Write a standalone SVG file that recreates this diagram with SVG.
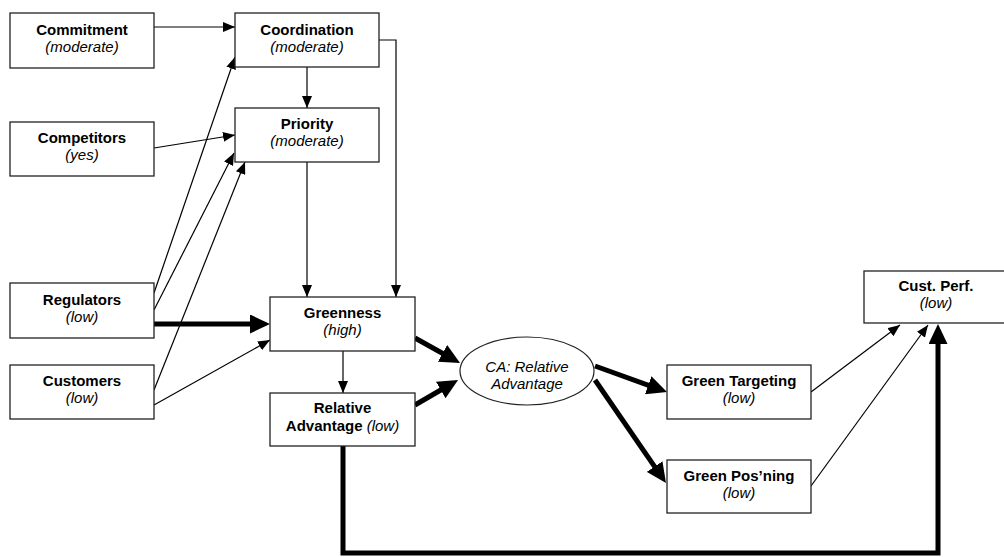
<svg xmlns="http://www.w3.org/2000/svg" width="1004" height="557" viewBox="0 0 1004 557">
  <defs>
    <style>
      .box { fill: #ffffff; stroke: #222222; stroke-width: 1.3; }
      .oval { fill: #ffffff; stroke: #222222; stroke-width: 1.2; }
      .t { font-family: "Liberation Sans", Arial, sans-serif; font-size: 15px; fill: #000000; text-anchor: middle; }
      .b { font-weight: bold; }
      .i { font-style: italic; }
      .thin { fill: none; stroke: #000000; stroke-width: 1.2; marker-end: url(#headThin); }
      .thick { fill: none; stroke: #000000; stroke-width: 5; marker-end: url(#headThick); }
    </style>
    <marker id="headThin" markerUnits="userSpaceOnUse" viewBox="0 0 12 10" refX="12" refY="5" markerWidth="12" markerHeight="10" orient="auto">
      <path d="M0,0 L12,5 L0,10 Z" fill="#000000"/>
    </marker>
    <marker id="headThick" markerUnits="userSpaceOnUse" viewBox="0 0 20 19" refX="10" refY="9.5" markerWidth="20" markerHeight="19" orient="auto">
      <path d="M0,0 L20,9.5 L0,19 Z" fill="#000000"/>
    </marker>
  </defs>
  <rect width="1004" height="557" fill="#ffffff"/>

  <g id="connectors">
    <!-- thin influences -->
    <path class="thin" d="M154,27 H235"/>
    <path class="thin" d="M307,67 V108"/>
    <path class="thin" d="M154,148 L235,135"/>
    <path class="thin" d="M154,293 L235,57"/>
    <path class="thin" d="M154,310 L234,153"/>
    <path class="thin" d="M154,390 L245,162"/>
    <path class="thin" d="M307,162 V297"/>
    <path class="thin" d="M379,40 H396 V297"/>
    <path class="thin" d="M154,405 L270,340"/>
    <path class="thin" d="M343,351 V393"/>
    <path class="thin" d="M811,392 L900,325"/>
    <path class="thin" d="M811,486 L928,325"/>
    <!-- strong influences -->
    <path class="thick" d="M154,324 H260"/>
    <path class="thick" d="M415,338 L451.3,358.2"/>
    <path class="thick" d="M415,405 L449.4,385"/>
    <path class="thick" d="M595,366 L657.6,388.6"/>
    <path class="thick" d="M595,380 L660.3,474.8"/>
    <path class="thick" d="M343,446 V553 H938 V334" stroke-linejoin="miter"/>
  </g>

  <g id="commitment">
    <rect class="box" x="10" y="13" width="144" height="55"/>
    <text class="t b" x="82" y="35">Commitment</text>
    <text class="t i" x="82" y="52">(moderate)</text>
  </g>
  <g id="coordination">
    <rect class="box" x="235" y="13" width="144" height="54"/>
    <text class="t b" x="307" y="35">Coordination</text>
    <text class="t i" x="307" y="52">(moderate)</text>
  </g>
  <g id="competitors">
    <rect class="box" x="10" y="122" width="144" height="54"/>
    <text class="t b" x="82" y="143">Competitors</text>
    <text class="t i" x="82" y="160">(yes)</text>
  </g>
  <g id="priority">
    <rect class="box" x="235" y="108" width="144" height="54"/>
    <text class="t b" x="307" y="129">Priority</text>
    <text class="t i" x="307" y="146">(moderate)</text>
  </g>
  <g id="regulators">
    <rect class="box" x="10" y="283" width="144" height="55"/>
    <text class="t b" x="82" y="305">Regulators</text>
    <text class="t i" x="82" y="322">(low)</text>
  </g>
  <g id="customers">
    <rect class="box" x="10" y="365" width="144" height="54"/>
    <text class="t b" x="82" y="386">Customers</text>
    <text class="t i" x="82" y="403">(low)</text>
  </g>
  <g id="greenness">
    <rect class="box" x="270" y="297" width="145" height="54"/>
    <text class="t b" x="342.5" y="318">Greenness</text>
    <text class="t i" x="342.5" y="335">(high)</text>
  </g>
  <g id="relative-advantage">
    <rect class="box" x="270" y="393" width="145" height="53"/>
    <text class="t b" x="342.5" y="413">Relative</text>
    <text class="t" x="342.5" y="431"><tspan class="b">Advantage </tspan><tspan class="i">(low)</tspan></text>
  </g>
  <g id="ca-relative-advantage">
    <ellipse class="oval" cx="527" cy="371" rx="67" ry="34"/>
    <text class="t i" x="527" y="372">CA: Relative</text>
    <text class="t i" x="527" y="389">Advantage</text>
  </g>
  <g id="green-targeting">
    <rect class="box" x="667" y="365" width="144" height="54"/>
    <text class="t b" x="739" y="386">Green Targeting</text>
    <text class="t i" x="739" y="403">(low)</text>
  </g>
  <g id="green-posning">
    <rect class="box" x="667" y="460" width="144" height="53"/>
    <text class="t b" x="739" y="481">Green Pos’ning</text>
    <text class="t i" x="739" y="498">(low)</text>
  </g>
  <g id="cust-perf">
    <rect class="box" x="864" y="271" width="144" height="52"/>
    <text class="t b" x="936" y="291">Cust. Perf.</text>
    <text class="t i" x="936" y="308">(low)</text>
  </g>
</svg>
